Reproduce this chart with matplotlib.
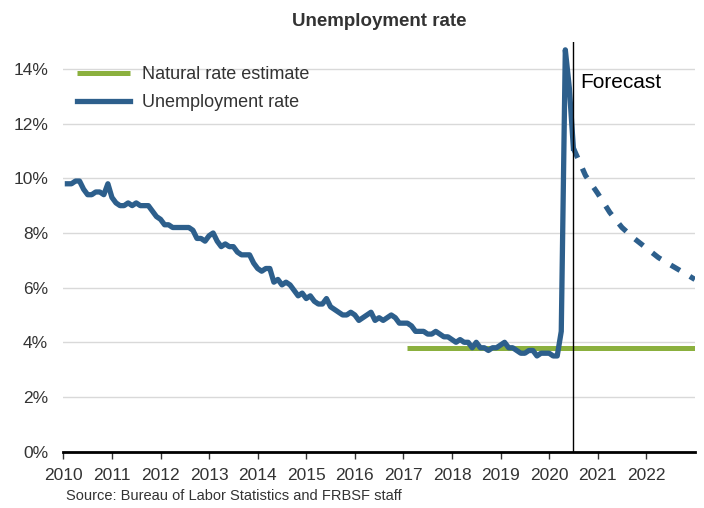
import numpy as np
import matplotlib
matplotlib.use("Agg")
import matplotlib.pyplot as plt

plt.rcParams['font.family'] = ['Liberation Sans', 'DejaVu Sans']

# monthly unemployment rate, Jan 2010 - Jun 2020
rate = [
    9.8, 9.8, 9.9, 9.9, 9.6, 9.4, 9.4, 9.5, 9.5, 9.4, 9.8, 9.3,
    9.1, 9.0, 9.0, 9.1, 9.0, 9.1, 9.0, 9.0, 9.0, 8.8, 8.6, 8.5,
    8.3, 8.3, 8.2, 8.2, 8.2, 8.2, 8.2, 8.1, 7.8, 7.8, 7.7, 7.9,
    8.0, 7.7, 7.5, 7.6, 7.5, 7.5, 7.3, 7.2, 7.2, 7.2, 6.9, 6.7,
    6.6, 6.7, 6.7, 6.2, 6.3, 6.1, 6.2, 6.1, 5.9, 5.7, 5.8, 5.6,
    5.7, 5.5, 5.4, 5.4, 5.6, 5.3, 5.2, 5.1, 5.0, 5.0, 5.1, 5.0,
    4.8, 4.9, 5.0, 5.1, 4.8, 4.9, 4.8, 4.9, 5.0, 4.9, 4.7, 4.7,
    4.7, 4.6, 4.4, 4.4, 4.4, 4.3, 4.3, 4.4, 4.3, 4.2, 4.2, 4.1,
    4.0, 4.1, 4.0, 4.0, 3.8, 4.0, 3.8, 3.8, 3.7, 3.8, 3.8, 3.9,
    4.0, 3.8, 3.8, 3.7, 3.6, 3.6, 3.7, 3.7, 3.5, 3.6, 3.6, 3.6,
    3.5, 3.5, 4.4, 14.7, 13.3, 11.1,
]
# month-end positions in fractional years
rate_x = 2010 + np.arange(1, len(rate) + 1) / 12.0

# forecast path (quarterly)
fc_x = [2020.5, 2020.75, 2021.0, 2021.25, 2021.5, 2021.75, 2022.0, 2022.25, 2022.5, 2022.75, 2023.0]
fc_y = [11.1, 10.1, 9.45, 8.75, 8.2, 7.8, 7.45, 7.1, 6.83, 6.57, 6.3]

# natural rate estimate
nat_x = [2017.083, 2023.0]
nat_y = [3.8, 3.8]

years = list(range(2010, 2023))
forecast_start = 2020.5

blue = '#2D5F8C'
green = '#8BB03E'
txt = '#333333'

fig = plt.figure(figsize=(7.04, 5.08), dpi=100)
ax = fig.add_axes([0.09, 0.111, 0.897, 0.807])

ax.plot(nat_x, nat_y, color=green, lw=3.6, solid_capstyle='butt', label='Natural rate estimate', zorder=3)
ax.plot(rate_x, rate, color=blue, lw=3.8, solid_joinstyle='round', label='Unemployment rate', zorder=4)
ax.plot(fc_x, fc_y, color=blue, lw=3.8, linestyle=(0, (2.0, 2.2)), zorder=4)
ax.axvline(forecast_start, color='black', lw=1.0, zorder=5)
ax.text(forecast_start + 0.15, 13.5, 'Forecast', fontsize=15, color='black', va='center', ha='left')

ax.set_xlim(2010, 2023)
ax.set_ylim(0, 15)
ax.set_xticks(years)
ax.set_xticklabels([str(y) for y in years])
ax.set_yticks(range(0, 15, 2))
ax.set_yticklabels(['{}%'.format(v) for v in range(0, 15, 2)])

ax.grid(axis='y', color='#d9d9d9', lw=1.0)
ax.set_axisbelow(True)
for s in ['left', 'right', 'top']:
    ax.spines[s].set_visible(False)
ax.spines['bottom'].set_linewidth(2.0)
ax.spines['bottom'].set_color('black')
ax.spines['bottom'].set_zorder(6)

ax.tick_params(axis='x', length=5, width=1, color='#333333', labelsize=12.5, labelcolor=txt, pad=7)
ax.tick_params(axis='y', length=0, labelsize=12.5, labelcolor=txt, pad=11)

ax.set_title('Unemployment rate', fontsize=13.5, fontweight='bold', color=txt, pad=11)

leg = ax.legend(loc='upper left', bbox_to_anchor=(0.022, 0.94), frameon=False, fontsize=13,
                handlelength=2.9, handletextpad=0.7, labelspacing=0.62, borderaxespad=0, borderpad=0)
for t in leg.get_texts():
    t.set_color(txt)

fig.text(66 / 704, 1 - 496 / 508, 'Source: Bureau of Labor Statistics and FRBSF staff',
         fontsize=10.5, color=txt, va='center', ha='left')

fig.savefig('out.png', dpi=100)
